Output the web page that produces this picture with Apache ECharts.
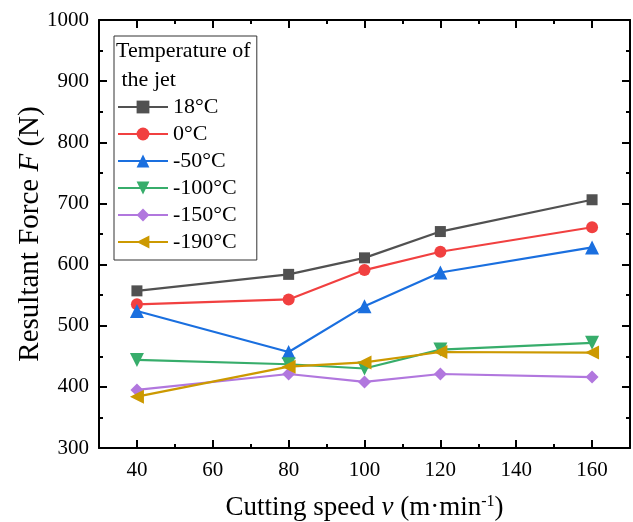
<!DOCTYPE html>
<html>
<head>
<meta charset="utf-8">
<script src="https://cdn.jsdelivr.net/npm/echarts@6/dist/echarts.min.js"></script>
<style>
html,body{margin:0;padding:0;background:#fff;}
#chart{width:633px;height:522px;}
</style>
</head>
<body>
<div id="chart"></div>
<script>
const speeds = [40, 80, 100, 120, 160];
const xMajorTicks = [40, 60, 80, 100, 120, 140, 160];
const xMinorTicks = [50, 70, 90, 110, 130, 150];
const seriesNames = ['18°C', '0°C', '-50°C', '-100°C', '-150°C', '-190°C'];
const f18 = [557, 584, 611, 654, 706];
const f0 = [535, 543, 591, 621, 661];
const fm50 = [524, 457, 532, 587, 628];
const fm100 = [444, 437, 430, 461, 472];
const fm150 = [395, 421, 408, 421, 416];
const fm190 = [384, 433, 440, 457, 456];

const values = [f18, f0, fm50, fm100, fm150, fm190];
const colors = ['#515151', '#F14040', '#1A6FDF', '#37AD6B', '#B177DE', '#CC9900'];
const symbols = ['rect', 'circle', 'triangle', 'triangle', 'diamond', 'triangle'];
const rotations = [0, 0, 0, 180, 0, 90];
const sizes = [11, 12, 14, 14, 13, 14];

const FONT = '"Liberation Serif", "Times New Roman", serif';

const chart = echarts.init(document.getElementById('chart'));

const series = seriesNames.map((name, i) => ({
  name: name,
  type: 'line',
  data: speeds.map((s, j) => [s, values[i][j]]),
  symbol: symbols[i],
  symbolRotate: rotations[i],
  symbolSize: sizes[i],
  showSymbol: true,
  lineStyle: { color: colors[i], width: 2.2 },
  itemStyle: { color: colors[i] },
  xAxisIndex: 0,
  yAxisIndex: 0,
  z: 3 + i
}));

const frameLine = { show: true, lineStyle: { color: '#000', width: 2 } };

chart.setOption({
  animation: false,
  backgroundColor: '#fff',
  title: {
    text: 'Temperature of\n the jet',
    left: 116,
    top: 37,
    padding: 0,
    textStyle: { fontFamily: FONT, fontSize: 22, fontWeight: 'normal', color: '#000', lineHeight: 29 }
  },
  legend: {
    orient: 'vertical',
    left: 114,
    top: 36,
    padding: [60, 20, 7, 3],
    itemWidth: 50,
    itemHeight: 16,
    itemGap: 5,
    borderColor: '#333',
    borderWidth: 1,
    data: seriesNames,
    textStyle: { fontFamily: FONT, fontSize: 22, color: '#000', lineHeight: 22, padding: [0, 0, 0, 0] }
  },
  grid: { left: 99, right: 3, top: 20, bottom: 74, containLabel: false, outerBoundsMode: 'none' },
  xAxis: [
    {
      type: 'value', min: 30, max: 170, position: 'bottom',
      splitLine: { show: false },
      axisLine: frameLine,
      axisTick: { show: true, inside: true, length: 8, customValues: xMajorTicks, lineStyle: { color: '#000', width: 2 } },
      axisLabel: { customValues: xMajorTicks, fontFamily: FONT, fontSize: 21, color: '#000', margin: 12 },
      name: '{a|Cutting speed }{i|v}{a| (m·min}{s|-1}{a|)}',
      nameLocation: 'middle',
      nameGap: 46,
      nameMoveOverlap: false,
      nameTextStyle: {
        rich: {
          a: { fontFamily: FONT, fontSize: 27, color: '#000' },
          i: { fontFamily: FONT, fontSize: 27, fontStyle: 'italic', color: '#000' },
          s: { fontFamily: FONT, fontSize: 16, color: '#000', verticalAlign: 'top', padding: [0, 0, 12, 0] }
        }
      }
    },
    {
      type: 'value', min: 30, max: 170, position: 'bottom',
      splitLine: { show: false },
      axisLine: { show: false },
      axisTick: { show: true, inside: true, length: 4, customValues: xMinorTicks, lineStyle: { color: '#000', width: 2 } },
      axisLabel: { show: false }
    },
    {
      type: 'value', min: 30, max: 170, position: 'top',
      splitLine: { show: false },
      axisLine: frameLine,
      axisTick: { show: true, inside: true, length: 8, customValues: xMajorTicks, lineStyle: { color: '#000', width: 2 } },
      axisLabel: { show: false }
    },
    {
      type: 'value', min: 30, max: 170, position: 'top',
      splitLine: { show: false },
      axisLine: { show: false },
      axisTick: { show: true, inside: true, length: 4, customValues: xMinorTicks, lineStyle: { color: '#000', width: 2 } },
      axisLabel: { show: false }
    }
  ],
  yAxis: [
    {
      type: 'value', min: 300, max: 1000, interval: 100, position: 'left',
      splitLine: { show: false },
      axisLine: frameLine,
      axisTick: { show: true, inside: true, length: 8, lineStyle: { color: '#000', width: 2 } },
      minorTick: { show: true, splitNumber: 2, length: 4, lineStyle: { color: '#000', width: 2 } },
      minorSplitLine: { show: false },
      axisLabel: { fontFamily: FONT, fontSize: 21, color: '#000', margin: 10, formatter: v => String(v) },
      name: '{a|Resultant Force }{i|F}{a| (N)}',
      nameLocation: 'middle',
      nameGap: 54,
      nameMoveOverlap: false,
      nameTextStyle: {
        rich: {
          a: { fontFamily: FONT, fontSize: 29, color: '#000' },
          i: { fontFamily: FONT, fontSize: 29, fontStyle: 'italic', color: '#000' }
        }
      }
    },
    {
      type: 'value', min: 300, max: 1000, interval: 100, position: 'right',
      splitLine: { show: false },
      axisLine: frameLine,
      axisTick: { show: true, inside: true, length: 8, lineStyle: { color: '#000', width: 2 } },
      minorTick: { show: true, splitNumber: 2, length: 4, lineStyle: { color: '#000', width: 2 } },
      minorSplitLine: { show: false },
      axisLabel: { show: false }
    }
  ],
  series: series
});
</script>
</body>
</html>
